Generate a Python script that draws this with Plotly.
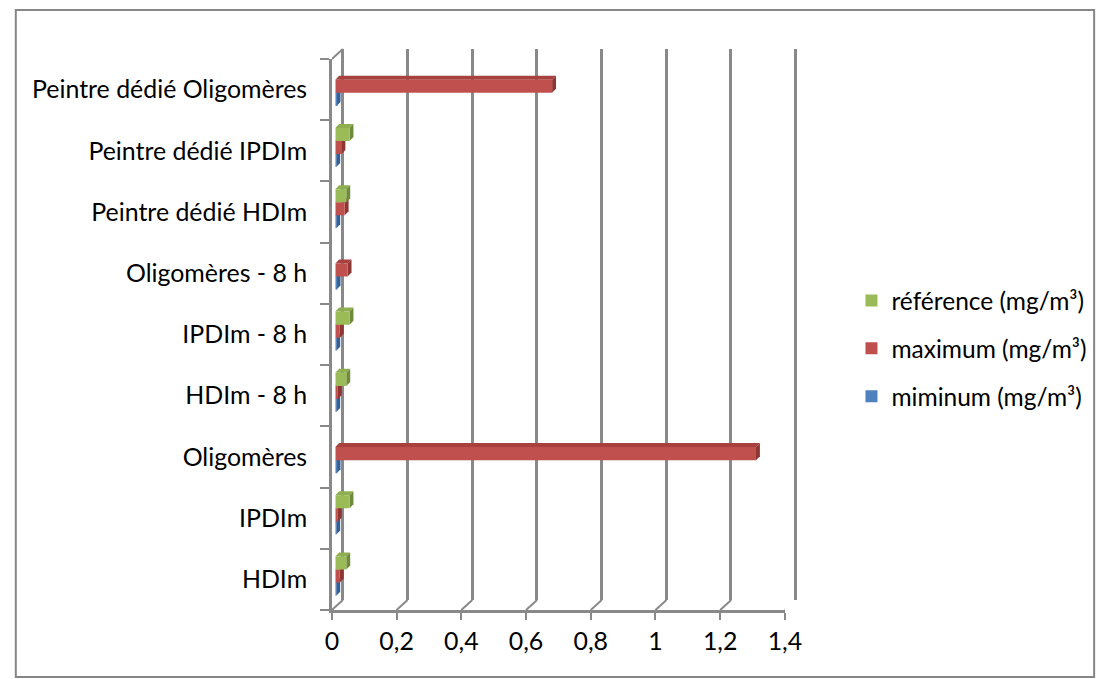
import plotly.graph_objects as go

# ---- data -------------------------------------------------------------
categories = [
    "HDIm", "IPDIm", "Oligomères",
    "HDIm - 8 h", "IPDIm - 8 h", "Oligomères - 8 h",
    "Peintre dédié HDIm", "Peintre dédié IPDIm", "Peintre dédié Oligomères",
]
minimum = [0.003, 0.003, 0.004, 0.003, 0.003, 0.004, 0.003, 0.003, 0.004]
maximum = [0.014, 0.008, 1.30, 0.008, 0.014, 0.038, 0.029, 0.019, 0.67]
reference = [0.034, 0.044, None, 0.034, 0.044, None, 0.034, 0.044, None]

x_ticks = [0, 0.2, 0.4, 0.6, 0.8, 1.0, 1.2, 1.4]
x_tick_text = ["0", "0,2", "0,4", "0,6", "0,8", "1", "1,2", "1,4"]

# name, values, front colour, top-face colour, side-face colour, legend rank
series = [
    ("miminum (mg/m³)", minimum, "#4F81BD", "#4473AD", "#345F93", 3),
    ("maximum (mg/m³)", maximum, "#C0504D", "#A8413E", "#8F3532", 2),
    ("référence (mg/m³)", reference, "#9BBB59", "#8FAE4F", "#6E8A3B", 1),
]

# ---- geometry helpers (pixels -> paper fractions) ---------------------
W, H = 1117, 679

def fx(p):
    return p / W

def fy(p):
    return 1 - p / H

FONT = dict(family="Lato, Carlito, sans-serif", size=24.9, color="#000000")
LEGEND_FONT = dict(FONT, size=24.5)
AXIS_GREY = "#898989"
X_MAX = 1.4
BAR_GAP = 0.36
DEPTH = 4  # px depth of the 3-D bar faces

# front plane (labels), back plane (grid) and bar plane, in pixels
front_x = (332, 795)
front_y = (59, 610)
back_x = (343, 806)
back_y = (49, 600)
bar_x = (335.5, 798.5)
bar_y = (55.7, 606.7)

px_per_x = (front_x[1] - front_x[0]) / X_MAX
GRID_PAD = 0.01  # keeps the end gridlines from being clipped

fig = go.Figure()

# back wall: vertical gridlines
fig.add_trace(go.Scatter(x=[0], y=[0], mode="none", showlegend=False,
                         hoverinfo="skip", xaxis="x", yaxis="y"))
# front plane: category labels
fig.add_trace(go.Scatter(x=[0] * len(categories), y=categories, mode="none",
                         showlegend=False, hoverinfo="skip",
                         xaxis="x2", yaxis="y2"))

# bars
for name, vals, col, _, _, rank in series:
    fig.add_trace(go.Bar(
        x=vals, y=categories, orientation="h", name=name,
        marker=dict(color=col, line=dict(width=0)),
        xaxis="x3", yaxis="y3", showlegend=False,
    ))

# legend keys: plain colour squares
for name, vals, col, _, _, rank in series:
    fig.add_trace(go.Scatter(
        x=[None], y=[None], mode="markers", name=name,
        marker=dict(symbol="square", size=12, color=col, line=dict(width=0)),
        xaxis="x3", yaxis="y3", legendgroup=name, legendrank=rank,
        hoverinfo="skip",
    ))

shapes = []

# 3-D faces of the bars (top and right side)
n = len(series)
w = (1 - BAR_GAP) / n
px_per_bar_x = (bar_x[1] - bar_x[0]) / X_MAX
px_per_cat = (bar_y[1] - bar_y[0]) / len(categories)
dx = DEPTH / px_per_bar_x
dy = DEPTH / px_per_cat
for k, (name, vals, col, top_col, side_col, _) in enumerate(series):
    for i, v in enumerate(vals):
        if v is None:
            continue
        y_top = i - (1 - BAR_GAP) / 2 + (k + 1) * w
        y_bot = y_top - w
        shapes.append(dict(
            type="path", xref="x3", yref="y3", layer="below",
            path=f"M 0,{y_top} L {dx},{y_top + dy} L {v + dx},{y_top + dy} L {v},{y_top} Z",
            fillcolor=top_col, line=dict(width=0)))
        shapes.append(dict(
            type="path", xref="x3", yref="y3", layer="below",
            path=f"M {v},{y_top} L {v + dx},{y_top + dy} L {v + dx},{y_bot + dy} L {v},{y_bot} Z",
            fillcolor=side_col, line=dict(width=0)))

# floor: diagonals joining front ticks to back gridlines
ox = back_x[0] - front_x[0]
oy = front_y[1] - back_y[1]
for t in x_ticks:
    shapes.append(dict(
        type="line", layer="below",
        xref="x2", xsizemode="pixel", xanchor=t, x0=0, x1=ox,
        yref="paper", ysizemode="pixel", yanchor=fy(front_y[1]), y0=0, y1=oy,
        line=dict(color=AXIS_GREY, width=2)))
# side wall top edge
shapes.append(dict(
    type="line", layer="below",
    xref="x2", xsizemode="pixel", xanchor=0, x0=0, x1=ox,
    yref="paper", ysizemode="pixel", yanchor=fy(front_y[0]), y0=0, y1=oy,
    line=dict(color=AXIS_GREY, width=2)))

# chart border
shapes.append(dict(type="rect", xref="paper", yref="paper",
                   x0=fx(9), x1=fx(1111), y0=fy(677), y1=fy(10),
                   line=dict(color="#868686", width=2), layer="below"))

fig.update_layout(
    width=W, height=H,
    margin=dict(l=0, r=0, t=0, b=0),
    paper_bgcolor="white", plot_bgcolor="rgba(0,0,0,0)",
    font=FONT,
    separators=", ",
    barmode="group", bargap=BAR_GAP, bargroupgap=0,
    shapes=shapes,
    showlegend=True,
    legend=dict(x=fx(863), y=fy(278), xanchor="left", yanchor="top",
                traceorder="grouped", tracegroupgap=13,
                font=LEGEND_FONT, bgcolor="rgba(0,0,0,0)"),
    xaxis=dict(domain=[fx(back_x[0] - GRID_PAD * px_per_x),
                       fx(back_x[1] + GRID_PAD * px_per_x)],
               range=[-GRID_PAD, X_MAX + GRID_PAD],
               tickvals=x_ticks, showticklabels=False, ticks="",
               showgrid=True, gridcolor=AXIS_GREY, gridwidth=2.5,
               zeroline=False, showline=False, fixedrange=True),
    yaxis=dict(domain=[fy(back_y[1]), fy(back_y[0])], range=[0, 1],
               visible=False, fixedrange=True),
    xaxis2=dict(domain=[fx(front_x[0]), fx(front_x[1])], range=[0, X_MAX],
                anchor="y2", tickvals=x_ticks, ticktext=x_tick_text,
                ticks="outside", ticklen=7, tickwidth=2, tickcolor=AXIS_GREY,
                showgrid=False, zeroline=False,
                showline=True, linecolor=AXIS_GREY, linewidth=2.5,
                tickfont=FONT, fixedrange=True),
    yaxis2=dict(domain=[fy(front_y[1]), fy(front_y[0])], range=[-0.5, 8.5],
                anchor="x2", type="category", categoryorder="array",
                categoryarray=categories, tickson="boundaries",
                ticks="outside", ticklen=9, tickwidth=2, tickcolor=AXIS_GREY,
                showgrid=False, zeroline=False,
                showline=True, linecolor=AXIS_GREY, linewidth=2.5,
                ticklabelstandoff=17, tickfont=FONT, fixedrange=True),
    xaxis3=dict(domain=[fx(bar_x[0]), fx(bar_x[1])], range=[0, X_MAX],
                anchor="y3", visible=False, fixedrange=True),
    yaxis3=dict(domain=[fy(bar_y[1]), fy(bar_y[0])], range=[-0.5, 8.5],
                anchor="x3", type="category", categoryorder="array",
                categoryarray=categories, visible=False, fixedrange=True),
)

# the page body carries no margin so the figure fills the window exactly
fig.write_html(
    "out.html",
    post_script="document.body.style.margin='0';"
                "document.body.style.overflow='hidden';",
)
